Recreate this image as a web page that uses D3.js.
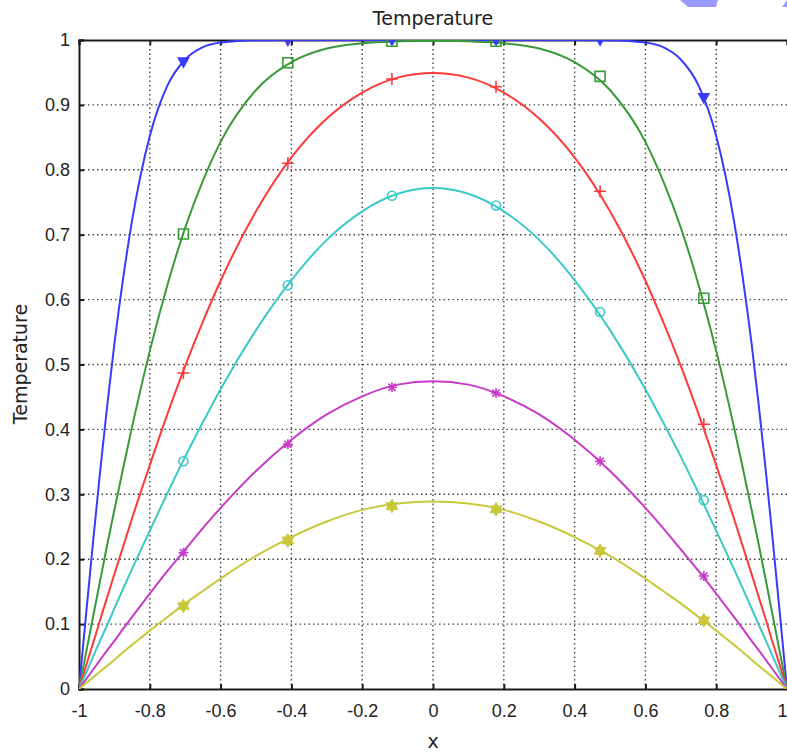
<!DOCTYPE html>
<html><head><meta charset="utf-8">
<script src="https://cdn.jsdelivr.net/npm/d3@7"></script>
<style>body{margin:0;background:#fff;} svg{display:block;}</style>
</head><body>
<script>
// ---- data ----
const xTicks = [-1,-0.8,-0.6,-0.4,-0.2,0,0.2,0.4,0.6,0.8,1];
const xTickLabels = ["-1","-0.8","-0.6","-0.4","-0.2","0","0.2","0.4","0.6","0.8","1"];
const yTicks = [0,0.1,0.2,0.3,0.4,0.5,0.6,0.7,0.8,0.9,1];
const yTickLabels = ["0","0.1","0.2","0.3","0.4","0.5","0.6","0.7","0.8","0.9","1"];
const xs = [-1,-0.98,-0.96,-0.94,-0.92,-0.9,-0.875,-0.85,-0.8,-0.75,-0.7,-0.65,-0.6,-0.5,-0.4,-0.3,-0.2,-0.1,0,
            0.1,0.2,0.3,0.4,0.5,0.6,0.65,0.7,0.75,0.8,0.85,0.875,0.9,0.92,0.94,0.96,0.98,1];
const blueY = [0,0.115,0.228,0.337,0.438,0.532,0.634,0.722,0.852,0.930,0.970,0.989,0.996,0.9997,1,1,1,1,1,
               1,1,1,1,0.9997,0.996,0.989,0.970,0.930,0.852,0.722,0.634,0.532,0.438,0.337,0.228,0.115,0];
const greenY = [0,0.056,0.112,0.168,0.223,0.276,0.341,0.404,0.521,0.623,0.711,0.783,0.843,0.923,0.966,0.987,0.995,0.998,0.999,
                0.998,0.995,0.987,0.966,0.923,0.843,0.783,0.711,0.623,0.521,0.404,0.341,0.276,0.223,0.168,0.112,0.056,0];
const redY = [0,0.036,0.071,0.107,0.142,0.177,0.220,0.263,0.345,0.424,0.498,0.566,0.629,0.736,0.819,0.879,0.919,0.942,0.949,
              0.942,0.919,0.879,0.819,0.736,0.629,0.566,0.498,0.424,0.345,0.263,0.220,0.177,0.142,0.107,0.071,0.036,0];
const cyanY = [0,0.025,0.050,0.075,0.099,0.124,0.155,0.185,0.244,0.302,0.358,0.411,0.462,0.553,0.630,0.692,0.736,0.763,0.772,
               0.763,0.736,0.692,0.630,0.553,0.462,0.411,0.358,0.302,0.244,0.185,0.155,0.124,0.099,0.075,0.050,0.025,0];
const magentaY = [0,0.015,0.030,0.045,0.060,0.074,0.093,0.111,0.147,0.182,0.215,0.248,0.279,0.336,0.384,0.423,0.451,0.469,0.474,
                  0.469,0.451,0.423,0.384,0.336,0.279,0.248,0.215,0.182,0.147,0.111,0.093,0.074,0.060,0.045,0.030,0.015,0];
const yellowY = [0,0.009,0.018,0.027,0.036,0.045,0.057,0.068,0.090,0.111,0.132,0.151,0.170,0.205,0.234,0.258,0.276,0.286,0.289,
                 0.286,0.276,0.258,0.234,0.205,0.170,0.151,0.132,0.111,0.090,0.068,0.057,0.045,0.036,0.027,0.018,0.009,0];
const markerX = [-0.705,-0.41,-0.116,0.178,0.472,0.765];
const blueM = [0.966,0.9995,1,1,0.9998,0.911];
const greenM = [0.701,0.965,0.998,0.998,0.944,0.602];
const redM = [0.487,0.81,0.94,0.928,0.767,0.408];
const cyanM = [0.351,0.622,0.760,0.745,0.581,0.291];
const magentaM = [0.21,0.377,0.465,0.456,0.351,0.174];
const yellowM = [0.128,0.229,0.282,0.277,0.213,0.106];

const series = [
  {y: blueY, m: blueM, color: "#3a3aff", marker: "tri"},
  {y: greenY, m: greenM, color: "#3a9a3a", marker: "square"},
  {y: redY, m: redM, color: "#ff3a3a", marker: "plus"},
  {y: cyanY, m: cyanM, color: "#3ac8c8", marker: "circle"},
  {y: magentaY, m: magentaM, color: "#c83ac8", marker: "aster"},
  {y: yellowY, m: yellowM, color: "#c8c83a", marker: "hex"}
];

// ---- layout ----
const W = 787, H = 754;
const L = 79, T = 40, R = 787, B = 689;
const svg = d3.select("body").append("svg").attr("width", W).attr("height", H)
  .style("font-family", "'DejaVu Sans', Verdana, sans-serif");
const x = d3.scaleLinear().domain([-1, 1]).range([L, R]);
const y = d3.scaleLinear().domain([0, 1]).range([B, T]);

svg.append("defs").append("clipPath").attr("id", "clip")
  .append("rect").attr("x", L).attr("y", T).attr("width", R - L).attr("height", B - T);

// grid
const grid = svg.append("g").attr("stroke", "#444").attr("stroke-width", 1.4)
  .attr("stroke-dasharray", "1.5,3");
grid.selectAll(".vg").data(xTicks.slice(1, -1)).join("line")
  .attr("x1", d => x(d)).attr("x2", d => x(d)).attr("y1", T).attr("y2", B);
grid.selectAll(".hg").data(yTicks.slice(1, -1)).join("line")
  .attr("y1", d => y(d)).attr("y2", d => y(d)).attr("x1", L).attr("x2", R);

// axes
const xAxisB = d3.axisBottom(x).tickValues(xTicks).tickSize(-5).tickPadding(15)
  .tickFormat((d, i) => xTickLabels[i]);
const gx = svg.append("g").attr("transform", `translate(0,${B})`).call(xAxisB);
const xAxisT = d3.axisTop(x).tickValues(xTicks).tickSize(-5).tickFormat("");
const gxt = svg.append("g").attr("transform", `translate(0,${T})`).call(xAxisT);
const yAxisL = d3.axisLeft(y).tickValues(yTicks).tickSize(-5).tickPadding(9)
  .tickFormat((d, i) => yTickLabels[i]);
const gy = svg.append("g").attr("transform", `translate(${L},0)`).call(yAxisL);
[gx, gxt, gy].forEach(g => {
  g.select(".domain").attr("stroke", "#1a1a1a").attr("stroke-width", 2);
  g.selectAll(".tick line").attr("stroke", "#1a1a1a").attr("stroke-width", 2);
  g.selectAll("text").attr("fill", "#222").style("font-size", "18px");
});
// last x label sits at the window edge: keep it inside
gx.selectAll(".tick text").filter(d => d === 1).attr("text-anchor", "end");

// lines
const plot = svg.append("g").attr("clip-path", "url(#clip)");
const line = d3.line().x(d => x(d[0])).y(d => y(d[1])).curve(d3.curveMonotoneX);
series.forEach(s => {
  plot.append("path").datum(xs.map((v, i) => [v, s.y[i]]))
    .attr("fill", "none").attr("stroke", s.color).attr("stroke-width", 2).attr("d", line);
});

// markers
function markerPath(kind) {
  switch (kind) {
    case "tri": return "M-5,-4L5,-4L0,5Z";
    case "square": return "M-5,-5H5V5H-5Z";
    case "plus": return "M-6,0H6M0,-6V6";
    case "circle": return "M4.5,0A4.5,4.5 0 1 1 -4.5,0A4.5,4.5 0 1 1 4.5,0Z";
    case "aster": return "M-5,0H5M0,-5V5M-3.6,-3.6L3.6,3.6M-3.6,3.6L3.6,-3.6";
    case "hex": return "M0,-6L1.8,-3.1L5.2,-3L3.5,0L5.2,3L1.8,3.1L0,6L-1.8,3.1L-5.2,3L-3.5,0L-5.2,-3L-1.8,-3.1Z";
  }
}
series.forEach(s => {
  const fill = (s.marker === "tri" || s.marker === "hex") ? s.color : "none";
  plot.selectAll(null).data(markerX.map((v, i) => [v, s.m[i]])).join("path")
    .attr("transform", d => `translate(${x(d[0])},${y(d[1])})`)
    .attr("d", markerPath(s.marker))
    .attr("fill", fill).attr("stroke", s.color).attr("stroke-width", 1.6);
});

// titles
svg.append("text").attr("x", 433).attr("y", 25).attr("text-anchor", "middle")
  .style("font-size", "19px").attr("fill", "#222").text("Temperature");
svg.append("text").attr("x", 433).attr("y", 748).attr("text-anchor", "middle")
  .style("font-size", "19px").attr("fill", "#222").text("x");
svg.append("text").attr("transform", "translate(27,364) rotate(-90)").attr("text-anchor", "middle")
  .style("font-size", "19px").attr("fill", "#222").text("Temperature");

// top-right decoration fragments
svg.append("path").attr("d", "M680,0L718,0L716,7L688,7Z").attr("fill", "#9999ff");
svg.append("path").attr("d", "M782,7L787,0L787,7Z").attr("fill", "#9999ff");
</script>
</body></html>
